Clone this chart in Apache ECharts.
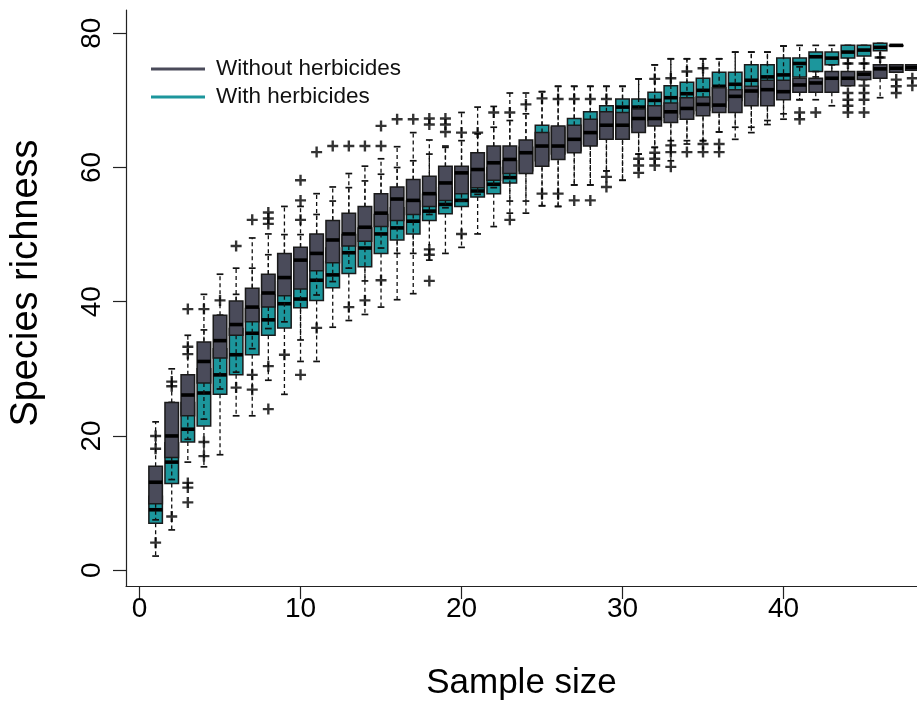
<!DOCTYPE html>
<html>
<head>
<meta charset="utf-8">
<script src="https://cdn.jsdelivr.net/npm/echarts@6/dist/echarts.min.js"></script>
<style>
html,body{margin:0;padding:0;background:#fff;}
#chart{width:917px;height:706px;}
</style>
</head>
<body>
<div id="chart"></div>
<script>
// ---- data ----
const sampleSizes = [1,2,3,4,5,6,7,8,9,10,11,12,13,14,15,16,17,18,19,20,21,22,23,24,25,26,27,28,29,30,31,32,33,34,35,36,37,38,39,40,41,42,43,44,45,46,47,48];
const xTickValues = [0,10,20,30,40];
const yTickValues = [0,20,40,60,80];

// Without herbicides
const darkLow  = [7.5,13.5,19.5,22.5,27,29.5,33,36,37,34.3,41,43,45,43.1,48,47.2,47.2,53,54,55,56,57,53.2,53.2,54.3,54.2,57.4,57.4,59.5,58.1,62,63,61,63.5,64,65.3,64.2,65.2,66.4,67.2,70.1,70.1,69.2,72.2,73.1,70.4,74.2,74.5];
const darkQ1   = [9.9,16.8,23.0,27.9,31.6,35.0,37.0,39.2,40.9,41.9,44.6,45.8,48.3,49.0,51.2,52.1,53.0,54.2,55.1,56.1,57.0,58.1,59.1,59.1,60.2,61.2,62.2,63.2,64.2,64.2,65.2,66.2,66.7,67.2,67.7,68.2,68.2,69.2,69.2,70.1,71.2,71.2,71.2,72.2,73.1,73.3,74.2,74.5];
const darkMed  = [13.1,20.0,26.1,31.1,34.2,36.6,39.2,41.3,43.6,46.2,47.2,49.2,50.1,51.1,53.2,55.3,55.1,56.1,57.7,59.2,59.7,60.7,61.2,62.2,63.2,63.2,64.2,65.2,66.3,66.3,67.3,67.3,68.3,68.8,69.4,69.3,70.6,71.4,71.6,71.3,72.3,72.6,73.3,73.3,73.9,74.7,74.8,74.9];
const darkQ3   = [15.5,25.0,29.1,34.0,38.0,40.1,42.0,44.1,47.2,48.1,50.1,52.1,53.2,54.2,56.1,57.1,58.2,58.7,60.2,60.2,62.2,63.2,63.2,64.1,65.2,66.2,66.3,67.2,68.3,68.2,68.7,69.2,69.6,70.4,70.5,71.9,71.6,72.1,73.0,73.0,73.3,73.3,74.3,74.3,74.3,75.3,75.3,75.3];
const darkHigh = [22.1,30.0,35.0,41.1,44.1,45.0,49.5,50.1,54.2,54.2,56.1,57.1,59.1,60.2,61.3,63.1,65.2,64.1,63.2,68.2,69.0,69.1,71.1,71.1,71.3,72.1,72.1,72.1,72.1,72.1,73.2,75.3,76.2,76.2,76.2,76.2,77.2,77.2,77.2,78.1,75.0,74.3,75.3,75.5,75.5,76.4,75.3,75.3];
const darkOutliers = [[1,4.1],[2,8.0],[3,38.9],[4,19.1],[4,17.0],[6,48.3],[6,27.2],[7,52.2],[7,29.1],[7,26.9],[8,51.6],[8,52.4],[8,53.3],[8,30.4],[9,32.1],[10,55.1],[10,58.1],[11,62.3],[11,36.1],[12,63.2],[13,63.2],[13,39.2],[14,63.2],[14,40.2],[15,63.2],[15,66.2],[15,43.2],[16,67.2],[17,67.2],[18,66.4],[18,67.3],[18,47.8],[18,47.0],[19,65.3],[19,66.4],[19,67.3],[20,65.2],[20,50.1],[21,65.2],[22,68.2],[23,68.2],[23,52.2],[24,69.4],[25,70.3],[25,56.1],[26,70.2],[26,56.1],[27,70.2],[27,55.1],[28,70.2],[28,55.1],[29,70.2],[29,58.6],[29,57.1],[31,61.3],[31,60.3],[31,59.2],[32,73.2],[32,62.2],[32,61.3],[32,60.3],[33,63.3],[33,62.3],[33,60.1],[34,62.3],[35,63.5],[35,62.3],[36,63.5],[36,62.3],[41,68.2],[41,67.2],[42,68.2],[44,71.1],[44,70.1],[44,69.2],[44,68.2],[45,72.2],[45,71.1],[45,70.1],[45,68.2],[47,73.1],[47,72.1],[47,71.1],[48,73.3],[48,72.2]];

// With herbicides
const tealLow  = [2.1,6.0,16.1,15.4,17.2,23.0,23.0,28.3,26.2,31.1,31.1,36.2,37.2,38.1,39.2,40.3,41.2,46.2,47.2,48.1,50.1,51.2,55.0,55.0,54.3,54.2,57.4,57.4,59.5,58.1,62,63,64,64,64,65.3,66,66,67,68,70.1,73.5,74.0,75.5,75.5,76.4,78.2,null];
const tealQ1   = [7.0,12.9,19.1,21.5,26.2,29.1,32.1,35.0,36.1,39.1,40.2,42.1,44.2,45.2,47.2,49.2,50.1,52.1,53.1,54.2,55.6,56.1,57.7,59.5,61.0,62.0,62.5,63.5,64.5,65.0,66.0,67.0,67.5,68.0,68.5,69.0,70.0,70.5,71.0,71.5,73.5,74.3,75.3,76.3,76.6,77.4,78.2,null];
const tealMed  = [9.0,16.1,21.0,26.4,29.1,32.1,35.3,37.3,39.7,40.4,43.2,44.0,47.3,48.0,50.1,51.0,52.0,53.5,54.5,55.1,56.5,57.5,58.5,61.0,64.0,64.0,65.0,66.0,67.0,69.0,69.0,70.0,70.4,71.0,71.5,72.1,72.4,73.0,73.5,73.8,75.5,76.5,76.3,77.2,77.5,77.9,78.2,null];
const tealQ3   = [11.0,19.0,25.0,30.0,33.0,36.0,39.0,41.0,43.0,44.0,46.0,48.0,50.0,51.0,53.0,54.0,55.0,56.0,57.0,58.0,59.0,60.0,61.0,63.0,66.3,66.0,67.3,68.3,69.2,70.2,70.2,71.2,72.2,72.7,73.3,74.2,74.2,75.3,75.3,76.3,76.3,77.2,77.2,78.2,78.2,78.5,78.2,null];
const tealHigh = [15.0,25.0,28.0,35.8,38.0,41.1,45.0,47.0,50.0,50.0,53.0,55.0,57.0,58.0,59.0,60.0,61.0,62.0,63.0,64.0,65.0,66.0,67.0,68.0,71.3,72.1,72.1,72.1,72.1,72.1,73.2,75.3,76.2,76.2,76.2,76.2,77.2,77.2,77.2,78.1,78.2,78.2,78.2,78.2,78.2,78.5,78.2,null];
const tealOutliers = [[1,18.1],[1,20.0],[2,27.4],[2,28.1],[3,32.2],[3,33.3],[3,13.0],[3,12.3],[3,10.1],[4,38.9],[5,40.2],[8,24.0],[10,52.2],[10,29.1],[18,43.1],[33,73.3],[34,74.3],[35,74.8],[44,75.5],[45,75.5],[46,76.4]];

// ---- styling ----
const DARK = '#4a4b5a';
const TEAL = '#1c969c';
const FONT = 'Liberation Sans, Arial, sans-serif';

function boxData(low, q1, med, q3, high) {
  const out = [];
  sampleSizes.forEach((s, i) => {
    if (med[i] == null) return;
    out.push([s, low[i], q1[i], med[i], q3[i], high[i]]);
  });
  return out;
}

function makeRender(fill) {
  return function (params, api) {
    const x = api.value(0);
    const pLow = api.coord([x, api.value(1)]);
    const pQ1 = api.coord([x, api.value(2)]);
    const pMed = api.coord([x, api.value(3)]);
    const pQ3 = api.coord([x, api.value(4)]);
    const pHigh = api.coord([x, api.value(5)]);
    const w = api.size([0.84, 0])[0];
    const cx = pMed[0];
    const half = w / 2;
    const sh = w / 4;
    const dash = {stroke: '#111', lineWidth: 1.3, lineDash: [4, 3]};
    const solid = {stroke: '#111', lineWidth: 1.7};
    return {
      type: 'group',
      children: [
        {type: 'line', shape: {x1: cx, y1: pQ3[1], x2: cx, y2: pHigh[1]}, style: dash},
        {type: 'line', shape: {x1: cx, y1: pQ1[1], x2: cx, y2: pLow[1]}, style: dash},
        {type: 'line', shape: {x1: cx - sh, y1: pHigh[1], x2: cx + sh, y2: pHigh[1]}, style: solid},
        {type: 'line', shape: {x1: cx - sh, y1: pLow[1], x2: cx + sh, y2: pLow[1]}, style: solid},
        {type: 'rect', shape: {x: cx - half, y: pQ3[1], width: w, height: Math.max(pQ1[1] - pQ3[1], 0.5)},
          style: {fill: fill, stroke: '#1a1a1a', lineWidth: 1.5}},
        {type: 'line', shape: {x1: cx - half, y1: pMed[1], x2: cx + half, y2: pMed[1]},
          style: {stroke: '#000', lineWidth: 3.6}}
      ]
    };
  };
}

const PLUS = 'path://M4.7,0h2.6v12h-2.6zM0,4.7h12v2.6h-12z';

const chart = echarts.init(document.getElementById('chart'), null, {renderer: 'canvas'});
chart.setOption({
  animation: false,
  backgroundColor: '#fff',
  textStyle: {fontFamily: FONT},
  grid: {left: 126, right: 0, top: 10, bottom: 114, containLabel: false},
  legend: {
    data: ['Without herbicides', 'With herbicides'],
    orient: 'vertical',
    left: 146,
    top: 52,
    itemWidth: 54,
    itemHeight: 3,
    itemGap: 4,
    icon: 'rect',
    textStyle: {fontSize: 22.5, lineHeight: 24, color: '#111', fontFamily: FONT, padding: [0, 0, 0, 6]}
  },
  xAxis: {
    type: 'value',
    min: -0.84,
    max: 48.29,
    axisLine: {show: true, onZero: false, lineStyle: {color: '#222', width: 1.2}},
    axisTick: {show: true, inside: false, length: 13, customValues: xTickValues, lineStyle: {color: '#222', width: 1.2}},
    axisLabel: {customValues: xTickValues, fontSize: 28, color: '#000', margin: 9, fontFamily: FONT},
    splitLine: {show: false},
    name: 'Sample size',
    nameLocation: 'middle',
    nameGap: 80,
    nameTextStyle: {fontSize: 35, color: '#000', fontFamily: FONT}
  },
  yAxis: {
    type: 'value',
    min: -2.36,
    max: 83.47,
    axisLine: {show: true, onZero: false, lineStyle: {color: '#222', width: 1.2}},
    axisTick: {show: true, inside: false, length: 13, customValues: yTickValues, lineStyle: {color: '#222', width: 1.2}},
    axisLabel: {customValues: yTickValues, fontSize: 28, color: '#000', margin: 20, rotate: 90, fontFamily: FONT},
    splitLine: {show: false},
    name: 'Species richness',
    nameLocation: 'middle',
    nameGap: 80,
    nameRotate: 90,
    nameTextStyle: {fontSize: 38, color: '#000', fontFamily: FONT, padding: [0, 0, 0, 30]}
  },
  series: [
    {
      name: 'With herbicides',
      type: 'custom',
      z: 2,
      itemStyle: {color: TEAL},
      encode: {x: 0, y: [1, 2, 3, 4, 5]},
      renderItem: makeRender(TEAL),
      data: boxData(tealLow, tealQ1, tealMed, tealQ3, tealHigh)
    },
    {
      name: 'Without herbicides',
      type: 'custom',
      z: 3,
      itemStyle: {color: DARK},
      encode: {x: 0, y: [1, 2, 3, 4, 5]},
      renderItem: makeRender(DARK),
      data: boxData(darkLow, darkQ1, darkMed, darkQ3, darkHigh)
    },
    {
      name: 'tealOut',
      type: 'scatter',
      z: 4,
      symbol: PLUS,
      symbolSize: 11,
      itemStyle: {color: '#000'},
      data: tealOutliers
    },
    {
      name: 'darkOut',
      type: 'scatter',
      z: 5,
      symbol: PLUS,
      symbolSize: 11,
      itemStyle: {color: '#000'},
      data: darkOutliers
    }
  ]
});
</script>
</body>
</html>
